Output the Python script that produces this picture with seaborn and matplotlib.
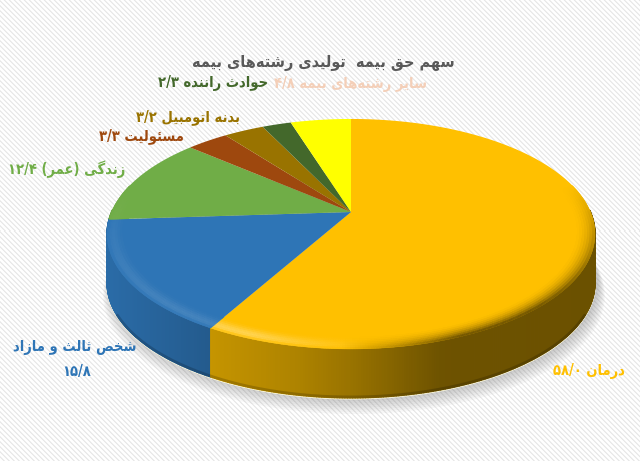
import matplotlib
matplotlib.use("Agg")
import matplotlib.pyplot as plt
from matplotlib.collections import PolyCollection
import numpy as np
import pandas as pd
import seaborn as sns

title = "سهم حق بیمه  تولیدی رشته‌های بیمه"
names = ["درمان", "شخص ثالث و مازاد", "زندگی (عمر)", "مسئولیت", "بدنه اتومبیل", "حوادث راننده", "سایر رشته‌های بیمه"]
value_labels = ["۵۸/۰", "۱۵/۸", "۱۲/۴", "۳/۳", "۳/۲", "۲/۳", "۴/۸"]
shares = [58.0, 15.8, 12.4, 3.3, 3.2, 2.3, 4.8]
slice_colors = ["#FFC000", "#2E75B6", "#70AD47", "#9E480E", "#997300", "#43682B", "#FFFF00"]
text_colors = ["#FFC000", "#2E75B6", "#70AD47", "#9E480E", "#997300", "#43682B", "#F4CFB8"]

# matplotlib has no arabic shaping, so pick the joined forms by hand
# letter: isolated, final, initial, medial
FORMS = {
    "ا": (0xFE8D, 0xFE8E), "د": (0xFEA9, 0xFEAA), "ر": (0xFEAD, 0xFEAE),
    "ز": (0xFEAF, 0xFEB0), "و": (0xFEED, 0xFEEE),
    "ب": (0xFE8F, 0xFE90, 0xFE91, 0xFE92), "ت": (0xFE95, 0xFE96, 0xFE97, 0xFE98),
    "ث": (0xFE99, 0xFE9A, 0xFE9B, 0xFE9C), "ح": (0xFEA1, 0xFEA2, 0xFEA3, 0xFEA4),
    "خ": (0xFEA5, 0xFEA6, 0xFEA7, 0xFEA8), "س": (0xFEB1, 0xFEB2, 0xFEB3, 0xFEB4),
    "ش": (0xFEB5, 0xFEB6, 0xFEB7, 0xFEB8), "ص": (0xFEB9, 0xFEBA, 0xFEBB, 0xFEBC),
    "ع": (0xFEC9, 0xFECA, 0xFECB, 0xFECC), "ق": (0xFED5, 0xFED6, 0xFED7, 0xFED8),
    "گ": (0xFB92, 0xFB93, 0xFB94, 0xFB95), "ل": (0xFEDD, 0xFEDE, 0xFEDF, 0xFEE0),
    "م": (0xFEE1, 0xFEE2, 0xFEE3, 0xFEE4), "ن": (0xFEE5, 0xFEE6, 0xFEE7, 0xFEE8),
    "ه": (0xFEE9, 0xFEEA, 0xFEEB, 0xFEEC), "ی": (0xFBFC, 0xFBFD, 0xFBFE, 0xFBFF),
    "ئ": (0xFE89, 0xFE8A, 0xFE8B, 0xFE8C),
}
MIRROR = {"(": ")", ")": "("}


def shape(text):
    out = []
    for i, ch in enumerate(text):
        if ch == "\u200c":
            continue
        if ch not in FORMS:
            out.append(MIRROR.get(ch, ch))
            continue
        prev = text[i - 1] if i > 0 else ""
        nxt = text[i + 1] if i + 1 < len(text) else ""
        joins_prev = prev in FORMS and len(FORMS[prev]) == 4
        joins_next = nxt in FORMS and len(FORMS[ch]) == 4
        if joins_prev and joins_next:
            code = FORMS[ch][3]
        elif joins_next:
            code = FORMS[ch][2]
        elif joins_prev:
            code = FORMS[ch][1]
        else:
            code = FORMS[ch][0]
        out.append(chr(code))
    return "".join(reversed(out))


def persian_line(text, number=""):
    # number stays left to right, on the left of the words
    if number:
        return number + " " + shape(text)
    return shape(text)


sns.set_theme(style="white")
plt.rcParams["font.family"] = ["DejaVu Sans"]

df = pd.DataFrame({"name": names, "value": value_labels, "share": shares})
df["color"] = sns.color_palette(slice_colors)
df["text_color"] = text_colors

fig = plt.figure(figsize=(6.4, 4.61), dpi=100)
ax = fig.add_axes([0, 0, 1, 1])
ax.axis("off")

# striped paper
yy, xx = np.indices((461, 640))
stripes = np.array([255, 255, 252, 232, 240])[(xx - yy) % 5]
ax.imshow(stripes, cmap="gray", vmin=0, vmax=255, extent=(0, 640, 461, 0), aspect="auto", interpolation="nearest", zorder=0)
ax.set_xlim(0, 640)
ax.set_ylim(461, 0)

# perspective of the disc
CX, CY = 351, 212
A, B, K = 239.5, 110.8, 0.191
DEPTH = 49


def project(theta, r=1.0):
    px = r * np.sin(theta)
    py = r * np.cos(theta)
    w = 1 + K * py
    return CX + A * px / w, CY - B * py / w


def wall_light(x):
    return np.interp(x, [107, 215, 300, 350, 440, 595], [0.92, 0.77, 0.68, 0.6, 0.43, 0.42])


edges = np.cumsum([0] + shares) / sum(shares) * 2 * np.pi

# shadow
full = np.linspace(0, 2 * np.pi, 361)
sx, sy = project(full)
for i in range(8):
    grow = 1 + 0.004 * i
    ax.fill(CX + (sx - CX) * grow + 3, CY + (sy - CY) * grow + DEPTH + 1 + 1.6 * i, color="#555555", alpha=0.045, lw=0, zorder=1)
ax.plot(sx, sy + DEPTH + 0.5, color="#FFFCE0", lw=1.4, zorder=1.5)

# side wall and top face, one slice at a time
walls = []
rim_polys, rim_cols = [], []
ring_edges = np.linspace(0.92, 1.0, 9)
for i, row in df.iterrows():
    base = np.array(row["color"])
    gain = 0.32 * base.max() ** 3
    steps = max(int((edges[i + 1] - edges[i]) / np.pi * 360), 4)
    th = np.linspace(edges[i], edges[i + 1], steps + 1)
    x, y = project(th)
    for j in range(steps):
        if np.cos(th[j]) < 0.02:
            poly = [(x[j], y[j]), (x[j + 1], y[j + 1]), (x[j + 1], y[j + 1] + DEPTH), (x[j], y[j] + DEPTH)]
            walls.append((y[j], poly, tuple(base * wall_light((x[j] + x[j + 1]) / 2))))
    ax.fill(np.r_[CX, x], np.r_[CY, y], color=base, lw=0, zorder=4)

    # soft bevel on the near edge
    for k in range(len(ring_edges) - 1):
        t = (k + 0.5) / (len(ring_edges) - 1)
        for j in range(steps):
            mid = (th[j] + th[j + 1]) / 2
            front = np.clip(-np.cos(mid) + 0.25, 0, 1)
            if front == 0:
                continue
            xm, _ = project(mid)
            dark = np.clip((xm - 340) / 120, 0, 1) * t ** 2 * 0.62
            light = np.clip((370 - xm) / 120, 0, 1) * np.sin(np.pi * t ** 2) * gain
            col = base * (1 - dark * front) + (1 - base) * light * front
            x0, y0 = project(th[j:j + 2], ring_edges[k])
            x1, y1 = project(th[j:j + 2], ring_edges[k + 1])
            rim_polys.append([(x0[0], y0[0]), (x0[1], y0[1]), (x1[1], y1[1]), (x1[0], y1[0])])
            rim_cols.append(tuple(col))

walls.sort(key=lambda w: w[0])
wall_polys = [w[1] for w in walls]
wall_cols = [w[2] for w in walls]
ax.add_collection(PolyCollection(wall_polys, facecolors=wall_cols, edgecolors=wall_cols, linewidths=0.9, zorder=3))
ax.add_collection(PolyCollection(rim_polys, facecolors=rim_cols, edgecolors=rim_cols, linewidths=0.3, zorder=5))

# darker line at the foot of the wall
front_th = np.linspace(0.65 * np.pi, 1.35 * np.pi, 181)
fx, fy = project(front_th)
ax.plot(fx, fy + DEPTH - 1, color="black", alpha=0.18, lw=2, zorder=3.5)

# labels: centre x, centre y of each text
text_style = dict(fontweight="bold", fontstretch="condensed", ha="center", va="center", zorder=6)
ax.text(323, 63, shape(title), color="#595959", fontsize=11.6, **text_style)
label_pos = {
    0: (589, 371), 2: (67, 169), 3: (141, 136), 4: (188, 117), 5: (213, 83), 6: (350, 84),
}
for i, row in df.iterrows():
    if i in label_pos:
        px, py = label_pos[i]
        ax.text(px, py, persian_line(row["name"], row["value"]), color=row["text_color"], fontsize=10.5, **text_style)
ax.text(75, 347, persian_line(names[1]), color=text_colors[1], fontsize=10.5, **text_style)
ax.text(77, 371, value_labels[1], color=text_colors[1], fontsize=10.5, **text_style)

fig.savefig("out.png", dpi=100)
